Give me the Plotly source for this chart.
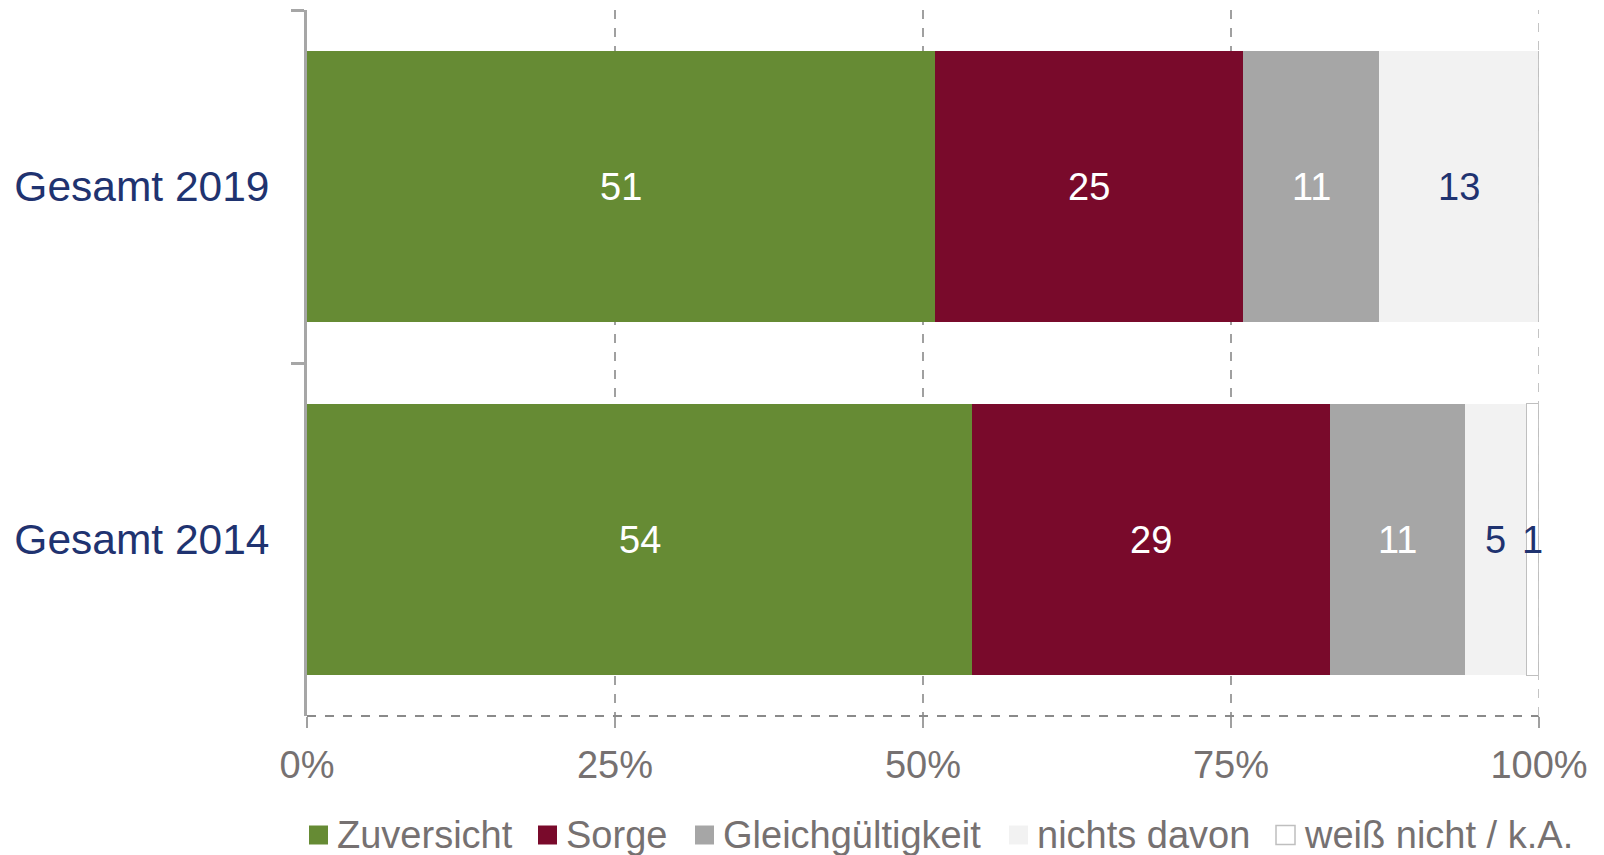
import plotly.graph_objects as go

# Survey groups (top to bottom) and answer shares in percent
categories = ["Gesamt 2019", "Gesamt 2014"]
series_names = ["Zuversicht", "Sorge", "Gleichgültigkeit", "nichts davon", "weiß nicht / k.A."]
zuversicht = [51, 54]
sorge = [25, 29]
gleichgueltigkeit = [11, 11]
nichts_davon = [13, 5]
weiss_nicht = [0, 1]
tick_values = [0, 25, 50, 75, 100]
tick_labels = ["0%", "25%", "50%", "75%", "100%"]

series_values = [zuversicht, sorge, gleichgueltigkeit, nichts_davon, weiss_nicht]
fill_colors = ["#668B34", "#790A2B", "#A6A6A6", "#F2F2F2", "#FFFFFF"]
edge_colors = ["#668B34", "#790A2B", "#A6A6A6", "#F2F2F2", "#BFBFBF"]
label_colors = ["#FFFFFF", "#FFFFFF", "#FFFFFF", "#1F3370", "#1F3370"]

FONT = "Liberation Sans, Arial, sans-serif"
NAVY = "#1F3370"
AXIS_GREY = "#767171"

W, H = 1604, 855
M_L, M_R, M_T, M_B = 307, 65, 10, 139
PLOT_W = W - M_L - M_R
PLOT_H = H - M_T - M_B

fig = go.Figure()

for name, vals, fc, ec in zip(series_names, series_values, fill_colors, edge_colors):
    fig.add_trace(go.Bar(
        name=name,
        y=categories,
        x=vals,
        orientation="h",
        marker=dict(color=fc, line=dict(color=ec, width=1.5 if fc == "#FFFFFF" else 0)),
        showlegend=False,
        hoverinfo="x+name",
    ))

# Value labels centred on each segment
annotations = []
for ci, cat in enumerate(categories):
    start = 0
    for vals, lc in zip(series_values, label_colors):
        v = vals[ci]
        if v:
            annotations.append(dict(
                x=start + v / 2, y=cat, xref="x", yref="y",
                text=str(v), showarrow=False,
                font=dict(family=FONT, size=38, color=lc),
            ))
        start += v

# Legend row drawn by hand so the swatches can be large squares
legend_swatch_px = [309, 538, 695, 1009, 1276]
legend_y_px = 835
swatch = 19
shapes = []


def px_x(p):
    return (p - M_L) / PLOT_W


def px_y(p):
    return (H - M_B - p) / PLOT_H


for name, fc, ec, sx in zip(series_names, fill_colors, edge_colors, legend_swatch_px):
    shapes.append(dict(
        type="rect", xref="paper", yref="paper",
        x0=px_x(sx), x1=px_x(sx + swatch),
        y0=px_y(legend_y_px + swatch / 2), y1=px_y(legend_y_px - swatch / 2),
        fillcolor=fc, line=dict(color=ec, width=1.5 if fc == "#FFFFFF" else 0),
    ))
    annotations.append(dict(
        x=px_x(sx + swatch + 7), y=px_y(legend_y_px), xref="paper", yref="paper",
        xanchor="left", yanchor="middle", text=name, showarrow=False,
        font=dict(family=FONT, size=38, color=AXIS_GREY),
    ))

# Dashed baseline along the value axis
shapes.append(dict(
    type="line", xref="paper", yref="paper", x0=0, x1=1, y0=0, y1=0,
    line=dict(color="#8A8A8A", width=2, dash="dash"), layer="above",
))
# Lighter dashed gridline closing the plot at 100 %
shapes.append(dict(
    type="line", xref="x", yref="paper", x0=tick_values[-1], x1=tick_values[-1], y0=0, y1=1,
    line=dict(color="#C4C4C4", width=2, dash="dash"), layer="above",
))

fig.update_layout(
    barmode="stack",
    bargap=0.23,
    width=W, height=H,
    margin=dict(l=M_L, r=M_R, t=M_T, b=M_B),
    paper_bgcolor="white",
    plot_bgcolor="white",
    font=dict(family=FONT),
    annotations=annotations,
    shapes=shapes,
    xaxis=dict(
        range=[0, 100],
        tickvals=tick_values,
        ticktext=tick_labels,
        tickfont=dict(family=FONT, size=38, color=AXIS_GREY),
        showgrid=True, gridcolor="#A0A0A0", gridwidth=2, griddash="dash",
        zeroline=False, showline=False,
        ticks="outside", ticklen=11, tickwidth=2, tickcolor="#A0A0A0",
        ticklabelstandoff=4,
        fixedrange=True,
    ),
    yaxis=dict(
        categoryorder="array", categoryarray=categories,
        autorange="reversed",
        tickfont=dict(family=FONT, size=42.5, color=NAVY),
        showline=True, linecolor="#A6A6A6", linewidth=3,
        ticks="outside", ticklen=13, tickwidth=3, tickcolor="#A6A6A6",
        tickson="boundaries",
        ticklabelstandoff=26,
        showgrid=False, zeroline=False,
        fixedrange=True,
    ),
)

fig.write_html("out.html")
